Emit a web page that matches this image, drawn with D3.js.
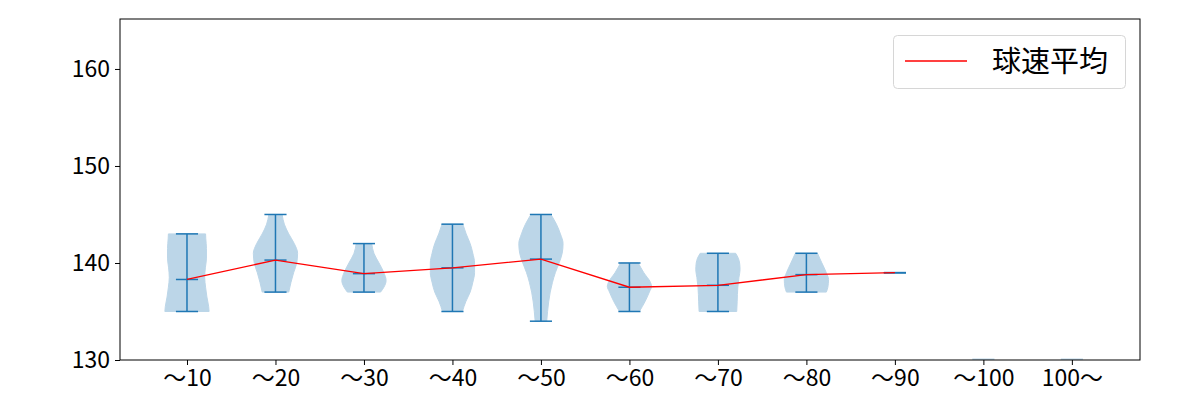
<!DOCTYPE html>
<html>
<head>
<meta charset="utf-8">
<script src="https://cdn.jsdelivr.net/npm/d3@7"></script>
<style>
  html, body { margin: 0; padding: 0; background: #fff; }
  svg { display: block; }
  text { font-family: "Noto Sans CJK JP", "Noto Sans", sans-serif; }
</style>
</head>
<body>
<svg id="chart" width="1200" height="400"></svg>
<script>
// ---- data ----
const categories = ["～10", "～20", "～30", "～40", "～50", "～60", "～70", "～80", "～90", "～100", "100～"];
const mins  = [135, 137, 137, 135, 134, 135, 135, 137, 139, 130, 130];
const maxs  = [143, 145, 142, 144, 145, 140, 141, 141, 139, 130, 130];
const means = [138.3, 140.3, 138.9, 139.5, 140.4, 137.5, 137.7, 138.8, 139.0, null, null];
// violin shapes: [speed, relative half-width]
const densities = [
  [[135,1.0],[135.5,0.98],[136.5,0.9],[137.5,0.84],[138.5,0.8],[139.5,0.83],[140.5,0.88],[141.5,0.88],[142.5,0.85],[143,0.84]],
  [[137,0.6],[138,0.7],[139,0.82],[140,0.96],[141,1.0],[142,0.85],[143,0.6],[144,0.4],[145,0.3]],
  [[137,0.75],[137.5,0.9],[138.2,1.0],[139,0.9],[140,0.68],[141,0.45],[142,0.35]],
  [[135,0.45],[136,0.6],[137,0.8],[138,0.92],[139,1.0],[140,1.0],[141,0.92],[142,0.8],[143,0.62],[144,0.47]],
  [[134,0.26],[135,0.3],[136,0.35],[137,0.42],[138,0.52],[139,0.65],[140,0.82],[141,0.96],[142,1.0],[143,0.88],[144,0.7],[145,0.45]],
  [[135,0.45],[136,0.7],[137,0.9],[137.6,1.0],[138,0.95],[139,0.65],[140,0.4]],
  [[135,0.85],[136,0.87],[137.5,0.9],[138.5,0.95],[139.3,1.0],[140,0.98],[140.5,0.92],[141,0.8]],
  [[137,0.9],[137.5,0.97],[138.3,1.0],[139,0.9],[140,0.7],[141,0.5]]
];
const yTicks = [130, 140, 150, 160];
const yDomain = [130, 165.15];
const xDomain = [0.243, 11.77];
const legendLabel = "球速平均";

// ---- layout ----
const margin = {left: 120, right: 60, top: 19, bottom: 40};
const W = 1200, H = 400;
const svg = d3.select("#chart");
const x = d3.scaleLinear().domain(xDomain).range([margin.left, W - margin.right]);
const y = d3.scaleLinear().domain(yDomain).range([H - margin.bottom, margin.top]);
const pos = categories.map((c, i) => i + 1);
const halfW = 0.25;   // max half-width in category units
const capHalf = 0.125;
const blue = "#1f77b4";
const fill = "#bcd6e8";

const plot = svg.append("g");
svg.append("defs").append("clipPath").attr("id", "clip")
  .append("rect").attr("x", margin.left).attr("y", margin.top)
  .attr("width", W - margin.left - margin.right).attr("height", H - margin.top - margin.bottom);
plot.attr("clip-path", "url(#clip)");

// violin bodies
const area = d3.area()
  .y(d => y(d[0]))
  .curve(d3.curveMonotoneY);
densities.forEach((dens, i) => {
  const c = pos[i];
  area.x0(d => x(c - halfW * d[1])).x1(d => x(c + halfW * d[1]));
  plot.append("path").attr("d", area(dens))
    .attr("fill", fill).attr("stroke", fill).attr("stroke-width", 1);
});

// empty categories: faint flat bodies
pos.forEach((c, i) => {
  if (i >= densities.length && mins[i] === maxs[i] && means[i] === null) {
    plot.append("line")
      .attr("x1", x(c - capHalf)).attr("x2", x(c + capHalf))
      .attr("y1", y(mins[i])).attr("y2", y(mins[i]))
      .attr("stroke", fill).attr("stroke-width", 3);
  }
});

// bars, caps, means
pos.forEach((c, i) => {
  if (means[i] === null) return;
  plot.append("line").attr("x1", x(c)).attr("x2", x(c))
    .attr("y1", y(mins[i])).attr("y2", y(maxs[i]))
    .attr("stroke", blue).attr("stroke-width", 1.5);
  [mins[i], maxs[i], means[i]].forEach(v => {
    plot.append("line")
      .attr("x1", x(c - capHalf)).attr("x2", x(c + capHalf))
      .attr("y1", y(v)).attr("y2", y(v))
      .attr("stroke", blue).attr("stroke-width", 1.5);
  });
});

// mean line
const meanPts = pos.map((c, i) => [c, means[i]]).filter(d => d[1] !== null);
plot.append("path")
  .attr("d", d3.line().x(d => x(d[0])).y(d => y(d[1]))(meanPts))
  .attr("fill", "none").attr("stroke", "red").attr("stroke-width", 1.3);

// axes
const xAxis = d3.axisBottom(x).tickValues(pos).tickFormat((d, i) => categories[i]).tickSize(5).tickPadding(5);
const yAxis = d3.axisLeft(y).tickValues(yTicks).tickSize(5).tickPadding(5);
const gx = svg.append("g").attr("transform", `translate(0,${H - margin.bottom})`).call(xAxis);
const gy = svg.append("g").attr("transform", `translate(${margin.left},0)`).call(yAxis);
[gx, gy].forEach(g => {
  g.select(".domain").remove();
  g.selectAll(".tick line").attr("stroke", "#000").attr("stroke-width", 1);
  g.selectAll(".tick text").attr("fill", "#000").style("font-size", "23px")
    .style("font-family", '"Noto Sans CJK JP", sans-serif');
});
// frame
svg.append("rect")
  .attr("x", margin.left).attr("y", margin.top)
  .attr("width", W - margin.left - margin.right).attr("height", H - margin.top - margin.bottom)
  .attr("fill", "none").attr("stroke", "#000").attr("stroke-width", 1);

// legend
const lg = svg.append("g");
lg.append("rect").attr("x", 893.5).attr("y", 35.5).attr("width", 232).attr("height", 53)
  .attr("rx", 4).attr("fill", "#fff").attr("fill-opacity", 0.8).attr("stroke", "#d6d6d6");
lg.append("line").attr("x1", 905).attr("x2", 967).attr("y1", 61).attr("y2", 61)
  .attr("stroke", "red").attr("stroke-width", 1.3);
lg.append("text").attr("x", 992).attr("y", 72).text(legendLabel)
  .style("font-size", "29px").attr("fill", "#000");
</script>
</body>
</html>
